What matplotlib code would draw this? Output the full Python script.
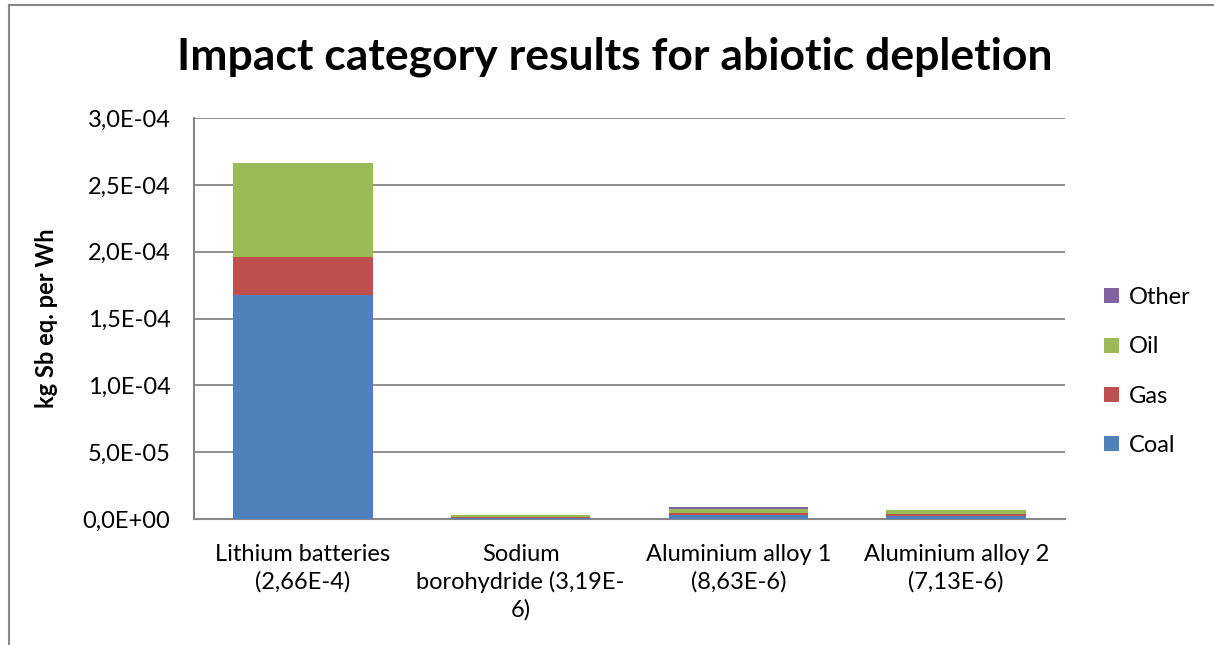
import matplotlib
matplotlib.use("Agg")

import matplotlib.pyplot as plt
import numpy as np
from matplotlib.lines import Line2D
from matplotlib.ticker import FuncFormatter

plt.rcParams["font.family"] = ["Lato", "DejaVu Sans"]

# stacked contributions, kg Sb eq. per Wh
categories = [
    "Lithium batteries\n(2,66E-4)",
    "Sodium\nborohydride (3,19E-\n6)",
    "Aluminium alloy 1\n(8,63E-6)",
    "Aluminium alloy 2\n(7,13E-6)",
]
coal = [1.676e-4, 0.90e-6, 3.00e-6, 2.60e-6]
gas = [0.284e-4, 0.70e-6, 1.20e-6, 1.00e-6]
oil = [0.700e-4, 1.20e-6, 3.63e-6, 3.40e-6]
other = [0.0, 0.39e-6, 0.80e-6, 0.13e-6]

series = [("Coal", coal, "#4F81BD"),
          ("Gas", gas, "#C0504D"),
          ("Oil", oil, "#9BBB59"),
          ("Other", other, "#8064A2")]

fig = plt.figure(figsize=(12.14, 6.45), dpi=100)
ax = fig.add_axes([0.1598, 0.1953, 0.7175, 0.6217])

x = np.arange(len(categories))
bottom = np.zeros(len(categories))
handles = []
for name, vals, color in series:
    vals = np.asarray(vals)
    h = ax.bar(x, vals, width=0.64, bottom=bottom, color=color, label=name, zorder=3)
    handles.append(h)
    bottom += vals

ax.set_xlim(-0.5, len(categories) - 0.5)
ax.set_ylim(0, 3.0e-4)
ax.set_yticks(np.arange(0, 3.01e-4, 0.5e-4))


def sci_comma(v, pos):
    s = f"{v:.1E}".replace(".", ",")
    mant, exp = s.split("E")
    sign = "-" if exp.startswith("-") else "+"
    return f"{mant}E{sign}{abs(int(exp)):02d}"


ax.yaxis.set_major_formatter(FuncFormatter(sci_comma))
ax.set_xticks(x)
ax.set_xticklabels(categories, fontsize=17, linespacing=1.33)
ax.tick_params(axis="both", length=0, labelsize=17)
ax.tick_params(axis="y", pad=17)
ax.tick_params(axis="x", pad=18)

ax.grid(axis="y", color="#878787", linewidth=1.3, zorder=0)
for side in ["top", "right"]:
    ax.spines[side].set_visible(False)
for side in ["left", "bottom"]:
    ax.spines[side].set_color("#878787")
    ax.spines[side].set_linewidth(1.5)

ax.set_ylabel("kg Sb eq. per Wh", fontsize=17, fontweight="bold", labelpad=18)

fig.text(0.5065, 0.912, "Impact category results for abiotic depletion",
         ha="center", va="center", fontsize=32, fontweight="bold")

fig.legend(handles[::-1], [s[0] for s in series][::-1],
           loc="center left", bbox_to_anchor=(0.9, 0.424), frameon=False,
           fontsize=17, handlelength=0.6, handleheight=0.6,
           handletextpad=0.45, labelspacing=1.2, borderpad=0)

# chart area border (left and top edges)
fig.add_artist(Line2D([8.5 / 1214, 8.5 / 1214], [0, 1 - 5 / 645],
                      transform=fig.transFigure, color="#878787", linewidth=1.5))
fig.add_artist(Line2D([8.5 / 1214, 1], [1 - 5 / 645, 1 - 5 / 645],
                      transform=fig.transFigure, color="#878787", linewidth=1.5))

fig.savefig("out.png", dpi=100)
